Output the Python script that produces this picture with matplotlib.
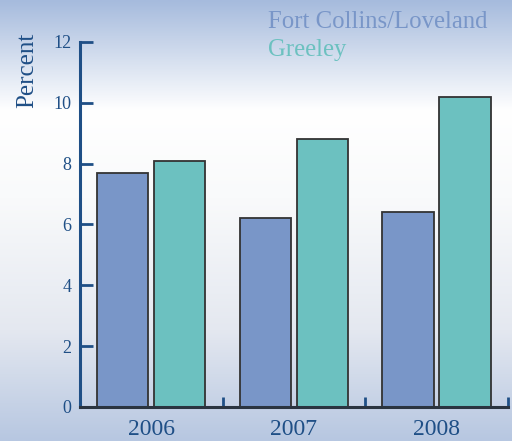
import numpy as np
import matplotlib
matplotlib.use("Agg")
import matplotlib.pyplot as plt
from matplotlib.colors import LinearSegmentedColormap

years = ["2006", "2007", "2008"]
fort_collins = [7.7, 6.2, 6.4]
greeley = [8.1, 8.8, 10.2]
series_names = ["Fort Collins/Loveland", "Greeley"]

blue = "#7996c8"
teal = "#6cc1c0"
dark_blue = "#1f4f86"

plt.rcParams["font.family"] = ["Liberation Serif", "DejaVu Serif"]

fig = plt.figure(figsize=(5.12, 4.41), dpi=100)

# background gradient
bg = fig.add_axes([0, 0, 1, 1], zorder=0)
cmap = LinearSegmentedColormap.from_list(
    "bg", [(0.0, "#a6bbdd"), (0.25, "#ffffff"), (0.45, "#f9fafb"),
           (0.75, "#e4e8f0"), (1.0, "#b7c7e1")])
grad = np.linspace(0, 1, 256).reshape(-1, 1)
bg.imshow(grad, aspect="auto", cmap=cmap, extent=[0, 1, 0, 1], origin="upper")
bg.axis("off")

ax = fig.add_axes([0.156, 0.0771, 0.836, 0.8277], zorder=1)
ax.patch.set_alpha(0)

x = np.arange(len(years))
w = 0.36
ax.bar(x - 0.2, fort_collins, w, color=blue, edgecolor="#333333", linewidth=1.3)
ax.bar(x + 0.2, greeley, w, color=teal, edgecolor="#333333", linewidth=1.3)

ax.set_xlim(-0.5, 2.5)
ax.set_ylim(0, 12)
ax.set_yticks(range(0, 13, 2))
ax.tick_params(axis="y", direction="in", length=9, width=2, color=dark_blue,
               labelcolor=dark_blue, labelsize=13, pad=6)

ax.set_xticks([0.5, 1.5, 2.5])
ax.set_xticklabels([])
ax.tick_params(axis="x", which="major", direction="in", length=7, width=2,
               color=dark_blue)
ax.set_xticks(x, minor=True)
ax.set_xticklabels(years, minor=True)
ax.tick_params(axis="x", which="minor", length=0, labelsize=17,
               labelcolor=dark_blue, pad=9)

for s in ["top", "right"]:
    ax.spines[s].set_visible(False)
ax.spines["left"].set_color(dark_blue)
ax.spines["left"].set_linewidth(2.2)
ax.spines["bottom"].set_color("#2a3440")
ax.spines["bottom"].set_linewidth(2.2)

fig.text(27 / 512, 1 - 70 / 441, "Percent", rotation=90, ha="center",
         va="center", fontsize=18, color=dark_blue)

fig.text(268 / 512, 1 - 22 / 441, series_names[0], ha="left", va="center",
         fontsize=17.8, color=blue)
fig.text(268 / 512, 1 - 50 / 441, series_names[1], ha="left", va="center",
         fontsize=17.8, color=teal)

fig.savefig("out.png", dpi=100)
